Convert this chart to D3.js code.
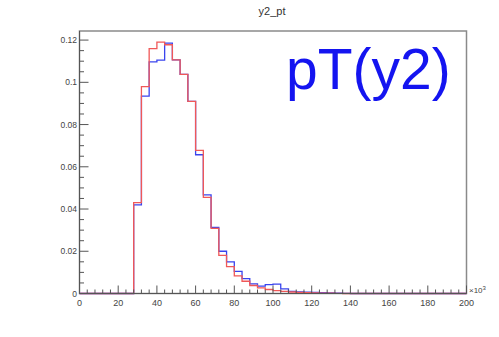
<!DOCTYPE html>
<html><head><meta charset="utf-8">
<script src="https://cdn.jsdelivr.net/npm/d3@7"></script>
<style>body{margin:0;background:#fff;}svg{display:block;}</style>
</head><body>
<script>
// Data (x in units of 10^3, bins of width 4 from 0 to 200)
const binEdgesStart = 0, binWidth = 4, nBins = 50;
const redValues = [0,0,0,0,0,0,0,0.043,0.098,0.116,0.119,0.1178,0.1106,0.1038,0.091,0.0678,0.0455,0.0308,0.0181,0.0127,0.0083,0.0058,0.0038,0.0027,0.0019,0.0014,0.001,0.0007,0.0005,0.0004,0.0003,0.0002,0.0002,0.0001,0,0,0,0,0,0,0,0,0,0,0,0,0,0,0,0];
const blueValues = [0,0,0,0,0,0,0,0.042,0.0935,0.1097,0.1105,0.1186,0.1106,0.1038,0.091,0.0657,0.0467,0.0313,0.020,0.015,0.0105,0.007,0.0046,0.0035,0.0042,0.0044,0.0022,0.001,0.0008,0.0006,0.0005,0.0004,0.0003,0.0002,0.0001,0,0,0,0,0,0,0,0,0,0,0,0,0,0,0];
const xTicks = [0,20,40,60,80,100,120,140,160,180,200];
const yTicks = [0,0.02,0.04,0.06,0.08,0.1,0.12];
const yTickLabels = ["0","0.02","0.04","0.06","0.08","0.1","0.12"];
const title = "y2_pt";
const label = "pT(y2)";
const xExp = "×10";

const W = 499, H = 337;
const L = 79.5, R = 466.5, T = 31, B = 293.5;
const svg = d3.select("body").append("svg").attr("width", W).attr("height", H);
const x = d3.scaleLinear().domain([0, 200]).range([L, R]);
const y = d3.scaleLinear().domain([0, 0.1243]).range([B, T]);

// frame
svg.append("rect").attr("x", L).attr("y", T).attr("width", R - L).attr("height", B - T)
  .attr("fill", "#fff").attr("stroke", "#8a8a8a").attr("stroke-width", 1.5);

// histograms
function histPath(vals) {
  const pts = [];
  vals.forEach((v, i) => {
    const x0 = binEdgesStart + i * binWidth, x1 = x0 + binWidth;
    pts.push([x(x0), y(v)]);
    pts.push([x(x1), y(v)]);
  });
  return d3.line()(pts);
}
svg.append("path").attr("d", histPath(blueValues)).attr("fill", "none")
  .attr("stroke", "#3a44ee").attr("stroke-width", 1.3);
svg.append("path").attr("d", histPath(redValues)).attr("fill", "none")
  .attr("stroke", "#f05858").attr("stroke-width", 1.3);

// axes
const axisColor = "#555";
const gx = svg.append("g");
gx.append("line").attr("x1", L).attr("x2", R).attr("y1", B).attr("y2", B).attr("stroke", axisColor);
d3.range(0, 201, 4).forEach(v => {
  const major = v % 20 === 0;
  gx.append("line").attr("x1", x(v)).attr("x2", x(v)).attr("y1", B).attr("y2", B - (major ? 8 : 4))
    .attr("stroke", axisColor).attr("stroke-width", 1);
});
xTicks.forEach(v => {
  gx.append("text").attr("x", x(v)).attr("y", 306).attr("text-anchor", "middle")
    .attr("font-family", "Liberation Sans, Arial, sans-serif").attr("font-size", 9).attr("fill", "#444").text(v);
});
const ex = svg.append("text").attr("x", 469).attr("y", 293).attr("font-family", "Liberation Sans, Arial, sans-serif")
  .attr("font-size", 8).attr("fill", "#444");
ex.append("tspan").text(xExp);
ex.append("tspan").attr("dy", -3).attr("font-size", 6).text("3");

const gy = svg.append("g");
gy.append("line").attr("x1", L).attr("x2", L).attr("y1", B).attr("y2", T).attr("stroke", axisColor);
d3.range(0, 0.1243, 0.005).forEach((v, i) => {
  const major = i % 4 === 0;
  gy.append("line").attr("x1", L).attr("x2", L + (major ? 9 : 4.5)).attr("y1", y(v)).attr("y2", y(v))
    .attr("stroke", axisColor).attr("stroke-width", 1);
});
yTicks.forEach((v, i) => {
  gy.append("text").attr("x", 77).attr("y", y(v) + 3).attr("text-anchor", "end")
    .attr("font-family", "Liberation Sans, Arial, sans-serif").attr("font-size", 8.5).attr("fill", "#444").text(yTickLabels[i]);
});

// title
svg.append("text").attr("x", 272).attr("y", 15).attr("text-anchor", "middle")
  .attr("font-family", "Liberation Sans, Arial, sans-serif").attr("font-size", 11).attr("fill", "#333").text(title);

// big label
svg.append("text").attr("x", 286).attr("y", 89).attr("font-family", "Liberation Sans, Arial, sans-serif")
  .attr("font-size", 57).attr("fill", "#1414f0").text(label);
</script>
</body></html>
